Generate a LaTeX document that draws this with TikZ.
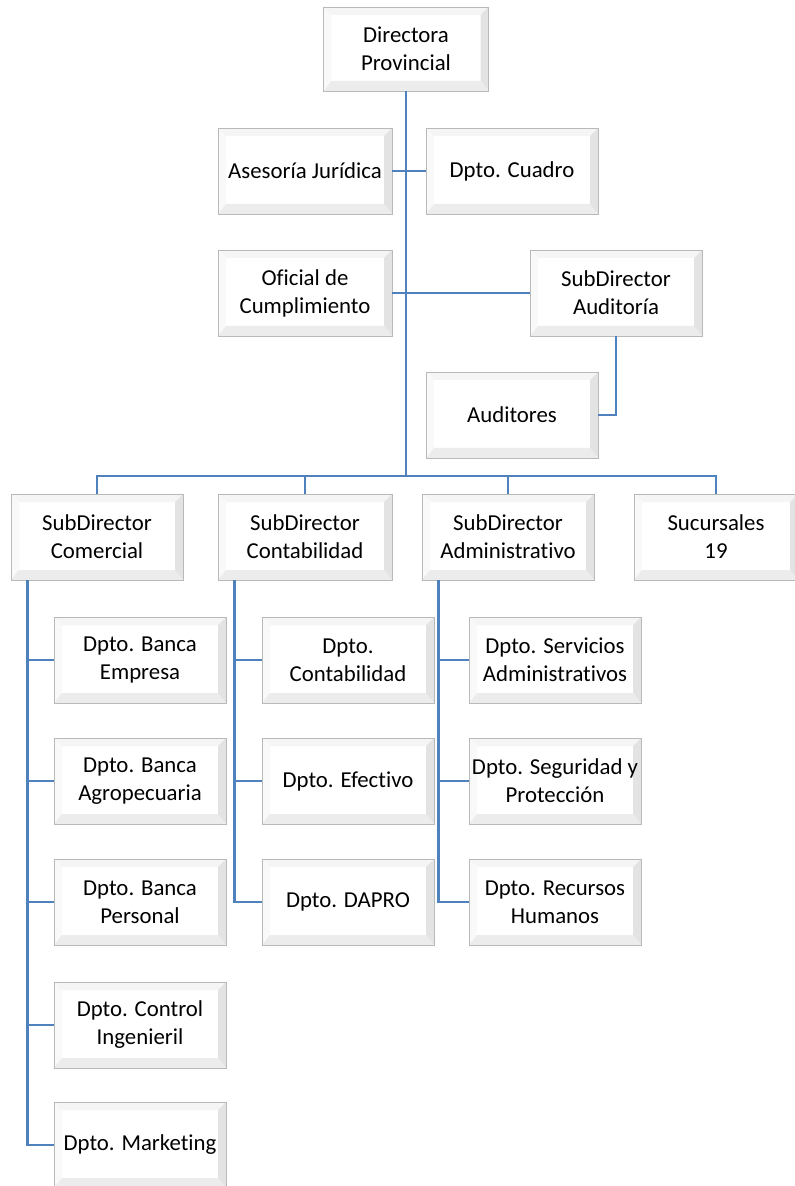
\documentclass[tikz,border=0pt]{standalone}
\usepackage{fontspec}
\setmainfont{Carlito}[Ligatures=NoCommon]
\definecolor{enlace}{RGB}{79,129,189}
\tikzset{
  cargo/.style={draw=gray!55, fill=white, minimum width=86pt, minimum height=43pt,
    align=center, inner sep=1pt, font=\fontsize{11.4}{14}\selectfont,
    path picture={
      \coordinate (sw) at (path picture bounding box.south west);
      \coordinate (ne) at (path picture bounding box.north east);
      \coordinate (nw) at (path picture bounding box.north west);
      \coordinate (se) at (path picture bounding box.south east);
      \fill[gray!8] (nw) -- (ne) -- ([shift={(-4pt,-4pt)}]ne) -- ([shift={(4pt,-4pt)}]nw) -- cycle;
      \fill[gray!5] (nw) -- (sw) -- ([shift={(4pt,5pt)}]sw) -- ([shift={(4pt,-4pt)}]nw) -- cycle;
      \fill[gray!22] (ne) -- (se) -- ([shift={(-4pt,5pt)}]se) -- ([shift={(-4pt,-4pt)}]ne) -- cycle;
      \fill[gray!15] (sw) -- (se) -- ([shift={(-4pt,5pt)}]se) -- ([shift={(4pt,5pt)}]sw) -- cycle;
    }},
  enlace/.style={draw=enlace, line width=1.4pt},
}
\begin{document}
\begin{tikzpicture}[x=0.5pt,y=-0.5pt]
  \useasboundingbox (0,0) rectangle (795,1186);
  % direccion
  \node[cargo, minimum width=82.5pt, minimum height=42pt] (dir) at (406,49) {Directora\\Provincial};
  \node[cargo, minimum width=87pt] (aseso) at (305,171) {Asesoría Jurídica};
  \node[cargo] (cuadro) at (512,171) {Dpto. Cuadro};
  \node[cargo, minimum width=87pt] (oficial) at (305,293) {Oficial de\\Cumplimiento};
  \node[cargo] (audit) at (616,293) {SubDirector\\Auditoría};
  \node[cargo] (auditores) at (512,415) {Auditores};
  \coordinate (bus) at (406,476);
  % subdirecciones
  \node[cargo] (comer) at (97,537) {SubDirector\\Comercial};
  \node[cargo, minimum width=87pt] (conta) at (305,537) {SubDirector\\Contabilidad};
  \node[cargo] (admin) at (508,537) {SubDirector\\Administrativo};
  \node[cargo, minimum width=82pt] (sucur) at (716,537) {Sucursales\\19};
  % comercial
  \node[cargo] (bempresa) at (140,660) {Dpto. Banca\\Empresa};
  \node[cargo] (bagro) at (140,781) {Dpto. Banca\\Agropecuaria};
  \node[cargo] (bpersonal) at (140,902) {Dpto. Banca\\Personal};
  \node[cargo] (control) at (140,1025) {Dpto. Control\\Ingenieril};
  \node[cargo] (marketing) at (140,1145) {Dpto. Marketing};
  % contabilidad
  \node[cargo] (dconta) at (348,660) {Dpto.\\Contabilidad};
  \node[cargo] (efectivo) at (348,781) {Dpto. Efectivo};
  \node[cargo] (dapro) at (348,902) {Dpto. DAPRO};
  % administrativo
  \node[cargo] (servicios) at (555,660) {Dpto. Servicios\\Administrativos};
  \node[cargo] (seguridad) at (555,781) {Dpto. Seguridad y\\Protección};
  \node[cargo] (recursos) at (555,902) {Dpto. Recursos\\Humanos};

  \draw[enlace] (dir.south) -- (bus);
  \draw[enlace] (aseso.east) -- (cuadro.west);
  \draw[enlace] (oficial.east) -- (audit.west);
  \draw[enlace] (audit.south) |- (auditores.east);
  \draw[enlace] (comer.north) |- (bus) -| (sucur.north);
  \draw[enlace] (conta.north) |- (bus);
  \draw[enlace] (admin.north) |- (bus);
  \foreach \hijo in {bempresa,bagro,bpersonal,control,marketing}
    \draw[enlace] ([xshift=8.5pt]comer.south west) |- (\hijo.west);
  \foreach \hijo in {dconta,efectivo,dapro}
    \draw[enlace] ([xshift=8.5pt]conta.south west) |- (\hijo.west);
  \foreach \hijo in {servicios,seguridad,recursos}
    \draw[enlace] ([xshift=8.5pt]admin.south west) |- (\hijo.west);
\end{tikzpicture}
\end{document}
